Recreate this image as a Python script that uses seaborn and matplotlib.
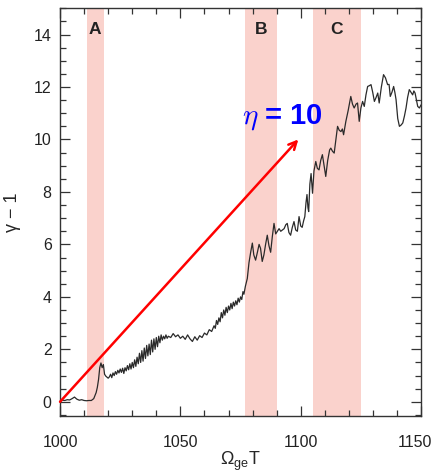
import matplotlib
matplotlib.use("Agg")
import matplotlib.pyplot as plt
from matplotlib.ticker import MultipleLocator
import matplotlib.transforms as mtransforms
import seaborn as sns
import pandas as pd

# ---- data ----
t = [1000, 1001, 1002, 1003, 1004, 1005, 1006, 1007, 1008, 1009, 1010, 1011, 1012, 1013, 1014,
     1015, 1015.5, 1016, 1016.5, 1017, 1017.5, 1018, 1018.5, 1019, 1020,
     1020.5, 1021, 1021.5, 1022, 1022.5, 1023, 1023.5, 1024, 1024.5, 1025, 1025.5, 1026, 1026.5,
     1027, 1027.5, 1028, 1028.5, 1029, 1029.5, 1030, 1030.5, 1031, 1031.5, 1032, 1032.5, 1033,
     1033.5, 1034, 1034.5, 1035, 1035.5, 1036, 1036.5, 1037, 1037.5, 1038, 1038.5, 1039, 1039.5,
     1040, 1040.5, 1041, 1041.5, 1042, 1042.5, 1043, 1043.5, 1044, 1044.5, 1045, 1046, 1047,
     1048, 1049, 1050, 1051, 1052, 1053, 1054, 1055, 1056, 1057, 1058, 1059, 1060, 1061, 1062,
     1063, 1064, 1064.5, 1065, 1065.5, 1066, 1066.5, 1067, 1067.5, 1068, 1068.5, 1069, 1069.5,
     1070, 1070.5, 1071, 1071.5, 1072, 1072.5, 1073, 1073.5, 1074, 1074.5, 1075, 1075.5, 1076,
     1076.4, 1077, 1077.8, 1078.5, 1079.2, 1079.9, 1080.5, 1081.25, 1082, 1082.7, 1083.3, 1084,
     1084.7, 1085.4, 1086.1, 1086.8, 1087.5, 1088.2, 1088.9, 1089.6, 1090.3, 1091, 1091.7, 1092.4,
     1093.1, 1093.8, 1094.4, 1095.1, 1095.8, 1096.5, 1097.2, 1097.9, 1098.6, 1099.3, 1100, 1100.6,
     1101.2, 1101.7, 1102.2, 1102.6, 1103, 1103.3, 1103.8, 1104.3, 1104.9, 1105.5, 1106.25,
     1106.9, 1107.6, 1108.3, 1109, 1109.7, 1110.4, 1111.2, 1112, 1112.5, 1113.2, 1113.9, 1114.6,
     1115.3, 1116, 1116.7, 1117.3, 1117.8, 1118.75, 1119.7, 1120.8, 1121.5, 1122.2, 1123, 1123.6,
     1124.3, 1125, 1125.7, 1126.4, 1127.1, 1127.8, 1128.5, 1129.2, 1129.9, 1130.6, 1131.3, 1132,
     1132.6, 1133.5, 1134.4, 1135.2, 1136.1, 1136.7, 1137.2, 1137.9, 1138.6, 1139.1, 1139.6,
     1140.3, 1141, 1141.7, 1142.4, 1143.1, 1143.75, 1144.4, 1145.1, 1145.8, 1146.5, 1147, 1147.5,
     1148.1, 1148.6, 1149.3, 1150]
gamma_minus_1 = [0.02, 0.06, 0.05, 0.08, 0.07, 0.12, 0.18, 0.1, 0.06, 0.08, 0.05, 0.04, 0.05, 0.05, 0.12,
     0.35, 0.55, 0.85, 1.3, 1.48, 1.3, 1.42, 1.05, 0.98, 0.9,
     0.95, 1.05, 0.92, 1.1, 1.0, 1.15, 1.05, 1.2, 1.1, 1.25, 1.12, 1.28, 1.08,
     1.3, 1.18, 1.38, 1.22, 1.45, 1.25, 1.5, 1.3, 1.6, 1.35, 1.7, 1.45, 1.85,
     1.5, 1.95, 1.55, 2.05, 1.65, 2.15, 1.75, 2.2, 1.8, 2.35, 1.9, 2.4, 2.0,
     2.45, 2.1, 2.5, 2.25, 2.55, 2.35, 2.5, 2.4, 2.55, 2.42, 2.5, 2.45, 2.6,
     2.48, 2.55, 2.42, 2.5, 2.38, 2.55, 2.4, 2.3, 2.48, 2.35, 2.52, 2.45, 2.62, 2.55, 2.75,
     2.68, 2.9, 2.8, 3.1, 2.95, 3.2, 3.05, 3.4, 3.2, 3.5, 3.3, 3.6, 3.4,
     3.65, 3.5, 3.75, 3.55, 3.8, 3.65, 3.85, 3.7, 3.95, 3.8, 4.0, 3.9, 4.2,
     4.1, 4.4, 4.7, 5.3, 5.7, 6.05, 5.6, 5.4, 5.7, 6.0, 5.85, 5.35,
     5.6, 6.0, 6.35, 5.95, 5.7, 6.3, 6.8, 6.4, 6.5, 6.6, 6.5, 6.55,
     6.6, 6.75, 6.8, 6.45, 6.35, 6.65, 6.87, 6.55, 6.5, 7.06, 6.7, 6.65,
     6.9, 7.06, 7.6, 7.9, 7.4, 7.25, 8.3, 8.7, 7.95, 8.8, 9.16,
     8.9, 8.84, 9.2, 9.42, 9.0, 8.59, 9.2, 9.6, 9.67, 9.55, 9.48, 10.0,
     10.5, 10.35, 10.3, 10.4, 10.18, 10.69, 11.1, 11.64, 11.35, 11.2, 11.35, 11.39,
     10.69, 11.2, 11.45, 11.26, 11.7, 12.02, 12.05, 12.09, 11.8, 11.45, 11.6, 11.77,
     11.39, 12.0, 12.47, 12.35, 12.09, 12.1, 11.64, 11.8, 12.02, 11.8, 11.52,
     10.8, 10.5, 10.55, 10.63, 10.9, 11.2, 11.6, 11.9, 11.8, 11.7, 11.85, 11.77,
     11.5, 11.26, 11.2, 11.32]

band_labels = ["A", "B", "C"]
band_start = [1011, 1077, 1105]
band_end = [1018.3, 1090, 1125]

arrow_start = (1000, 0)
arrow_end = (1099, 10)
eta_label = "10"

df = pd.DataFrame({"t": t, "g": gamma_minus_1})

# ---- style ----
sns.set_style("ticks")
plt.rcParams["font.family"] = ["Liberation Sans", "DejaVu Sans"]
plt.rcParams["mathtext.fontset"] = "custom"
plt.rcParams["mathtext.rm"] = "Liberation Sans"
plt.rcParams["mathtext.it"] = "Liberation Sans:italic"

fig = plt.figure(figsize=(4.35, 4.74), dpi=100)
ax = fig.add_axes([0.138, 0.123, 0.830, 0.8595])

for lab, s, e in zip(band_labels, band_start, band_end):
    ax.axvspan(s, e, color="#fad2cc", lw=0, zorder=0)
    ax.text((s + e) / 2, 14.2, lab, ha="center", va="center", fontsize=12.5,
            fontweight="bold", color="#222222")

sns.lineplot(data=df, x="t", y="g", ax=ax, color="#2a2a2a", lw=0.9, zorder=3)

ax.annotate("", xy=arrow_end, xytext=arrow_start,
            arrowprops=dict(arrowstyle="->", color="red", lw=1.8,
                            mutation_scale=14, shrinkA=0, shrinkB=0), zorder=4)
ax.text(1092.5, 10.85, r"$\eta$ = " + eta_label, ha="center", va="center",
        fontsize=21, fontweight="bold", color="blue", math_fontfamily="cm")

ax.set_xlim(1000, 1150)
ax.set_ylim(-0.53, 15)
ax.xaxis.set_major_locator(MultipleLocator(50))
ax.xaxis.set_minor_locator(MultipleLocator(10))
ax.yaxis.set_major_locator(MultipleLocator(2))
ax.yaxis.set_minor_locator(MultipleLocator(0.5))
ax.tick_params(which="both", direction="in", top=True, right=True, width=0.9, color="#333333")
ax.tick_params(which="major", length=7, labelsize=11.5, labelcolor="#222222")
ax.tick_params(which="minor", length=4)
ax.tick_params(axis="x", which="major", pad=14)
ax.tick_params(axis="y", which="major", pad=6)
for sp in ax.spines.values():
    sp.set_linewidth(1.0)
    sp.set_color("#333333")

ax.set_xlabel(r"$\Omega_{\rm ge}$T", fontsize=13, labelpad=0)
ax.set_ylabel("γ − 1", fontsize=13, labelpad=9)

fig.canvas.draw()
off = mtransforms.ScaledTranslation(-6 / 100, 0, fig.dpi_scale_trans)
for lbl in ax.get_xticklabels():
    if lbl.get_text().replace("\u2212", "-") == "1150":
        lbl.set_transform(lbl.get_transform() + off)

fig.savefig("out.png", dpi=100)
